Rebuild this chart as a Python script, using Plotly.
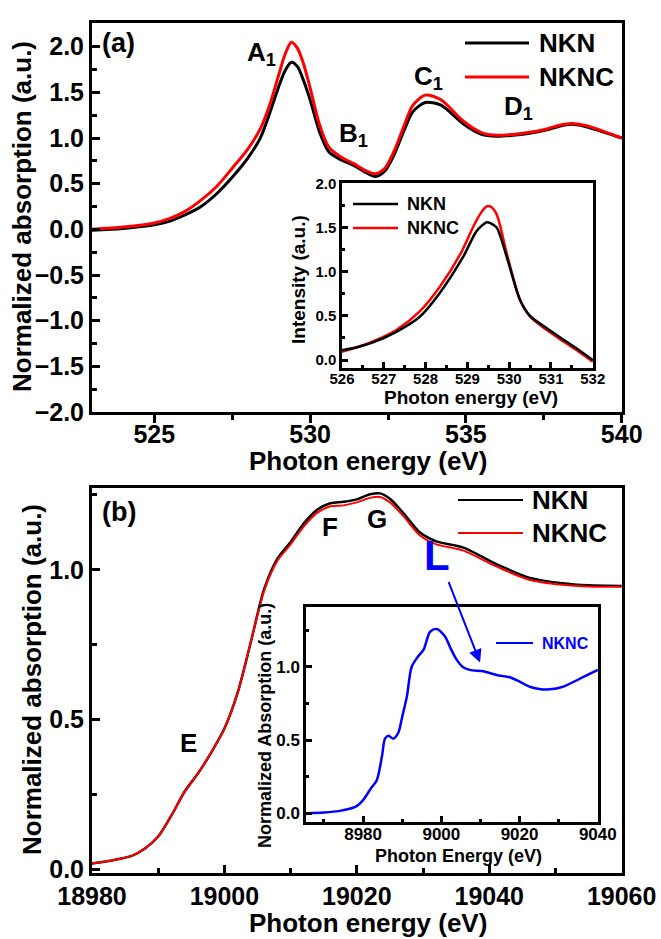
import plotly.graph_objects as go

W, H = 661, 939
FONT = "Liberation Sans, Arial, sans-serif"

# ---------------- data: panel (a) main O K-edge ----------------
a_x = [523.0, 524.0, 525.0, 525.5, 526.0, 526.5, 527.0, 527.5, 528.0, 528.4, 528.7, 529.0,
       529.2, 529.4, 529.6, 529.8, 530.0, 530.3, 530.6, 531.0, 531.4, 531.8, 532.1, 532.4,
       532.7, 533.0, 533.3, 533.7, 534.2, 534.9, 535.5, 536.0, 536.5, 537.0, 537.6, 538.0,
       538.4, 538.8, 539.2, 540.0]
a_nknc = [0.0, 0.025, 0.07, 0.12, 0.2, 0.32, 0.47, 0.67, 0.88, 1.1, 1.36, 1.7,
          1.92, 2.05, 1.98, 1.8, 1.55, 1.15, 0.9, 0.79, 0.72, 0.64, 0.61, 0.67,
          0.86, 1.12, 1.36, 1.47, 1.42, 1.19, 1.06, 1.03, 1.04, 1.06, 1.10, 1.14,
          1.16, 1.14, 1.10, 1.0]
a_nkn = [-0.01, 0.01, 0.05, 0.09, 0.16, 0.25, 0.39, 0.57, 0.78, 1.0, 1.27, 1.57,
         1.74, 1.83, 1.78, 1.62, 1.42, 1.07, 0.85, 0.76, 0.70, 0.62, 0.58, 0.64,
         0.82, 1.07, 1.29, 1.39, 1.36, 1.16, 1.04, 1.02, 1.03, 1.05, 1.09, 1.13,
         1.15, 1.13, 1.09, 1.0]

# ---------------- data: panel (a) inset ----------------
ia_x_nknc = [526.0, 526.4, 526.74, 527.3, 527.86, 528.34, 528.82, 529.14, 529.3, 529.46,
             529.55, 529.7, 529.94, 530.26, 530.5, 530.9, 531.3, 531.65, 532.0]
ia_nknc = [0.094, 0.15, 0.21, 0.34, 0.55, 0.83, 1.19, 1.51, 1.65, 1.74,
           1.74, 1.65, 1.21, 0.68, 0.49, 0.34, 0.21, 0.1, -0.02]
ia_x_nkn = [526.0, 526.4, 526.74, 527.3, 527.86, 528.34, 528.9, 529.22, 529.46, 529.55,
            529.7, 529.94, 530.26, 530.5, 530.9, 531.3, 531.65, 532.0]
ia_nkn = [0.11, 0.15, 0.2, 0.32, 0.49, 0.76, 1.17, 1.46, 1.56, 1.55,
          1.5, 1.17, 0.68, 0.5, 0.36, 0.23, 0.12, 0.0]

# ---------------- data: panel (b) main Nb K-edge ----------------
b_x = [18980, 18983, 18986, 18988, 18990, 18992, 18994, 18996, 18998, 19000, 19002,
       19004, 19006, 19008, 19010, 19012, 19014, 19016, 19018, 19020, 19022, 19023.5,
       19025, 19027, 19029.5, 19032, 19036, 19041, 19046, 19051, 19055, 19060]
b_nknc = [0.02, 0.03, 0.045, 0.07, 0.11, 0.18, 0.26, 0.32, 0.39, 0.47, 0.59,
          0.76, 0.93, 1.03, 1.085, 1.145, 1.19, 1.212, 1.215, 1.225, 1.24, 1.243,
          1.225, 1.18, 1.115, 1.085, 1.065, 1.012, 0.967, 0.95, 0.944, 0.943]
b_nkn = [0.02, 0.03, 0.045, 0.07, 0.11, 0.18, 0.26, 0.32, 0.39, 0.47, 0.59,
         0.76, 0.935, 1.037, 1.093, 1.155, 1.2, 1.222, 1.227, 1.235, 1.252, 1.255,
         1.237, 1.19, 1.125, 1.095, 1.075, 1.02, 0.974, 0.955, 0.948, 0.946]

# ---------------- data: panel (b) inset ----------------
ib_x = [8965.5, 8970, 8974, 8978, 8980, 8982, 8983.5, 8984.8, 8985.6, 8986.5, 8987.7,
        8989, 8990, 8991.2, 8992.4, 8994, 8995.5, 8997.1, 8998.8, 9000.9, 9002.5, 9003.9,
        9005.5, 9007.3, 9010.7, 9014.1, 9017.5, 9020, 9022.6, 9025, 9027.7, 9031.1,
        9036.2, 9040]
ib_nknc = [0.0, 0.005, 0.016, 0.043, 0.09, 0.17, 0.226, 0.386, 0.51, 0.53, 0.51,
           0.55, 0.66, 0.80, 1.0, 1.07, 1.12, 1.24, 1.26, 1.21, 1.12, 1.05,
           1.0, 0.98, 0.97, 0.945, 0.93, 0.9, 0.865, 0.85, 0.847, 0.865,
           0.93, 0.98]


def px(x):
    return x / W


def py(y):
    return 1 - y / H


fig = go.Figure()


def line(x, y, color, width, xa, ya, name):
    fig.add_trace(go.Scatter(x=x, y=y, mode="lines", name=name,
                             line=dict(color=color, width=width, shape="spline", smoothing=0.8),
                             xaxis=xa, yaxis=ya, showlegend=False))


line(a_x, a_nkn, "black", 3, "x", "y", "NKN")
line(a_x, a_nknc, "red", 3, "x", "y", "NKNC")
line(ia_x_nknc, ia_nknc, "red", 2.5, "x3", "y3", "NKNC")
line(ia_x_nkn, ia_nkn, "black", 2.5, "x3", "y3", "NKN")
line(b_x, b_nkn, "black", 2.5, "x2", "y2", "NKN")
line(b_x, b_nknc, "red", 2, "x2", "y2", "NKNC")
line(ib_x, ib_nknc, "#0000ff", 2.5, "x4", "y4", "NKNC")


def axstyle(size, lw, ticks, ticklen, minor_dtick, minor_len, **kw):
    d = dict(showline=True, linecolor="black", linewidth=lw, mirror=True,
             ticks=ticks, ticklen=ticklen, tickwidth=lw, tickcolor="black",
             showgrid=False, zeroline=False, automargin=False,
             exponentformat="none", separatethousands=False,
             tickfont=dict(family=FONT, size=size, color="black", weight="bold"),
             minor=dict(dtick=minor_dtick, ticks=ticks, ticklen=minor_len, tickwidth=lw,
                        tickcolor="black", showgrid=False))
    d.update(kw)
    return d


fig.update_layout(
    width=W, height=H, margin=dict(l=0, r=0, t=0, b=0, autoexpand=False),
    paper_bgcolor="white", plot_bgcolor="white",
    font=dict(family=FONT, color="black"),
    xaxis=axstyle(25, 3, "outside", 8, 2.5, 5, domain=[px(92), px(622)], anchor="y",
                  range=[523, 540.01], dtick=5, tick0=525, ticklabelstandoff=-10),
    yaxis=axstyle(25, 3, "inside", 8, 0.25, 5, domain=[py(412), py(23)], anchor="x",
                  range=[-2.0, 2.26], dtick=0.5, tick0=0, tickformat=".1f"),
    xaxis2=axstyle(25, 3, "inside", 8, 10, 5, domain=[px(92), px(622)], anchor="y2",
                   range=[18980, 19060.05], dtick=20, tick0=18980, tickformat="d",
                   ticklabelstandoff=-1),
    yaxis2=axstyle(25, 3, "inside", 8, 0.25, 5, domain=[py(873), py(488)], anchor="x2",
                   range=[-0.012, 1.273], dtick=0.5, tick0=0, tickformat=".1f"),
    xaxis3=axstyle(15, 2.5, "inside", 6, 0.5, 3, domain=[px(342), px(593)], anchor="y3",
                   range=[526, 532.005], dtick=1, tick0=526, ticklabelstandoff=-5),
    yaxis3=axstyle(15, 2.5, "inside", 6, 0.25, 3, domain=[py(368), py(183)], anchor="x3",
                   range=[-0.09, 2.005], dtick=0.5, tick0=0, tickformat=".1f"),
    xaxis4=axstyle(17, 2.5, "inside", 6, 10, 3, domain=[px(306), px(598)], anchor="y4",
                   range=[8965.4, 9040.05], dtick=20, tick0=8980, tickformat="d",
                   ticklabelstandoff=-5),
    yaxis4=axstyle(17, 2.5, "inside", 6, 0.25, 3, domain=[py(822), py(607)], anchor="x4",
                   range=[-0.06, 1.41], dtick=0.5, tick0=0, tickformat=".1f"),
)

anns = []


def txt(text, x, y, size, color="black", xanchor="center", yanchor="middle", angle=0):
    anns.append(dict(text="<b>%s</b>" % text, x=px(x), y=py(y), xref="paper", yref="paper",
                     xanchor=xanchor, yanchor=yanchor, showarrow=False, textangle=angle,
                     font=dict(family=FONT, size=size, color=color)))


# axis titles
txt("Photon energy (eV)", 368, 461, 26)
txt("Photon energy (eV)", 368, 923, 26)
txt("Normalized absorption (a.u.)", 22, 217, 26, angle=-90)
txt("Normalized absorption (a.u.)", 32, 680, 26, angle=-90)
txt("Photon energy (eV)", 471, 397, 19)
txt("Intensity (a.u.)", 298, 280, 19, angle=-90)
txt("Photon Energy (eV)", 458, 856, 18)
txt("Normalized Absorption (a.u.)", 265, 726, 18, angle=-90)

# panel labels and peak labels
txt("(a)", 100, 43, 27, xanchor="left")
txt("(b)", 100, 512, 27, xanchor="left")
txt("A<sub>1</sub>", 245, 54, 26, xanchor="left")
txt("B<sub>1</sub>", 337, 134, 26, xanchor="left")
txt("C<sub>1</sub>", 412, 78, 26, xanchor="left")
txt("D<sub>1</sub>", 502, 108, 26, xanchor="left")
txt("E", 188, 743, 26)
txt("F", 330, 527, 26)
txt("G", 377, 519, 26)
txt("L", 437, 555, 42, color="#0000ff")

# legends (drawn as sample lines + labels)
txt("NKN", 537, 43, 26, xanchor="left")
txt("NKNC", 537, 77, 26, xanchor="left")
txt("NKN", 530, 500, 26, xanchor="left")
txt("NKNC", 530, 533, 26, xanchor="left")
txt("NKN", 405, 204, 18, xanchor="left")
txt("NKNC", 405, 228, 18, xanchor="left")
txt("NKNC", 540, 643, 16, color="#0000ff", xanchor="left")

# arrow from "L" to the inset curve
anns.append(dict(x=9009.9, y=1.03, xref="x4", yref="y4", ax=-32, ay=-82, text="",
                 showarrow=True, arrowhead=2, arrowsize=1.3, arrowwidth=2, arrowcolor="#0000ff"))

fig.update_layout(annotations=anns)

shapes = []


def seg(x0, x1, y, color, width):
    shapes.append(dict(type="line", xref="paper", yref="paper", x0=px(x0), x1=px(x1), y0=py(y), y1=py(y),
                       line=dict(color=color, width=width)))


seg(465, 529, 43, "black", 3)
seg(465, 529, 77, "red", 3)
seg(458, 523, 500, "black", 2)
seg(458, 523, 533, "red", 2)
seg(353, 398, 204, "black", 2.5)
seg(353, 398, 228, "red", 2.5)
seg(496, 533, 643, "#0000ff", 2)
fig.update_layout(shapes=shapes)

fig.write_html("out.html")
